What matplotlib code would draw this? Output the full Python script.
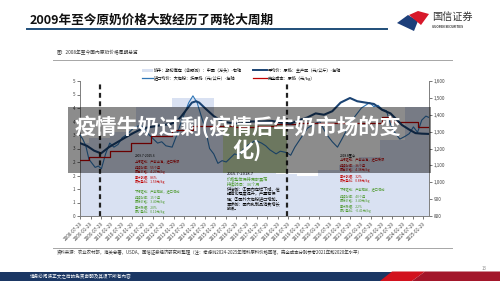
import matplotlib
matplotlib.use('Agg')
import matplotlib.pyplot as plt
import pandas as pd
from matplotlib.patches import Rectangle, Polygon
from matplotlib.lines import Line2D

plt.rcParams['font.family'] = ['Noto Sans CJK SC', 'DejaVu Sans']

# ---- data ----
# 平均价：原奶：主产区（元/公斤）
price_t = [2008.57, 2008.9, 2009.25, 2009.58, 2009.96, 2010.4, 2010.8, 2011.2, 2011.6, 2012.0,
           2012.5, 2012.9, 2013.15, 2013.4, 2013.6, 2013.8, 2013.95, 2014.15, 2014.3, 2014.6,
           2015.0, 2015.4, 2015.8, 2016.3, 2016.8, 2017.3, 2017.8, 2018.3, 2018.7, 2019.1,
           2019.5, 2019.9, 2020.3, 2020.7, 2021.1, 2021.55, 2021.9, 2022.3, 2022.7, 2023.1,
           2023.5, 2024.05, 2024.4, 2024.7, 2025.0, 2025.35]
price_v = [2.70, 2.60, 2.42, 2.32, 2.55, 2.75, 2.93, 3.10, 3.25, 3.30,
           3.37, 3.40, 3.48, 3.65, 3.85, 4.05, 4.20, 4.25, 4.20, 3.98,
           3.70, 3.50, 3.45, 3.42, 3.50, 3.50, 3.52, 3.45, 3.42, 3.55,
           3.65, 3.80, 3.75, 3.88, 4.20, 4.37, 4.25, 4.20, 4.15, 3.93,
           3.80, 3.37, 3.20, 3.07, 3.05, 3.04]

# 进口均价：大包粉：折原奶（元/公斤）
imp_t = [2008.57, 2008.7, 2008.85, 2009.0, 2009.15, 2009.3, 2009.45, 2009.6, 2009.8, 2010.0,
         2010.2, 2010.4, 2010.6, 2010.8, 2011.0, 2011.2, 2011.5, 2011.7, 2011.9, 2012.1,
         2012.3, 2012.5, 2012.7, 2013.0, 2013.2, 2013.4, 2013.6, 2013.8, 2014.0, 2014.2,
         2014.4, 2014.6, 2014.8, 2015.0, 2015.2, 2015.4, 2015.6, 2015.8, 2016.0, 2016.2,
         2016.5, 2016.8, 2017.0, 2017.3, 2017.5, 2017.7, 2018.0, 2018.2, 2018.5, 2018.7,
         2018.9, 2019.2, 2019.5, 2019.8, 2020.1, 2020.3, 2020.5, 2020.7, 2020.95, 2021.2,
         2021.4, 2021.6, 2021.8, 2022.1, 2022.3, 2022.5, 2022.7, 2022.9, 2023.1, 2023.3,
         2023.5, 2023.7, 2023.95, 2024.2, 2024.4, 2024.6, 2024.8, 2025.0, 2025.2, 2025.35]
imp_v = [3.00, 2.85, 2.60, 2.10, 1.95, 1.80, 1.85, 1.75, 2.30, 2.70,
         2.55, 2.65, 2.90, 3.00, 3.15, 3.30, 3.35, 3.20, 3.00, 2.85,
         2.70, 2.75, 2.60, 2.55, 2.95, 3.40, 3.80, 4.20, 4.45, 4.20,
         3.70, 3.20, 2.50, 2.30, 1.95, 2.05, 2.00, 2.15, 2.30, 2.25,
         2.55, 2.70, 2.80, 2.70, 2.60, 2.45, 2.30, 2.40, 2.35, 2.25,
         2.55, 2.90, 3.25, 3.40, 3.50, 3.20, 2.95, 2.75, 2.55, 2.90,
         3.20, 3.50, 3.70, 4.00, 4.10, 4.20, 4.05, 4.10, 3.95, 3.90,
         3.40, 3.10, 2.85, 2.95, 3.05, 3.30, 3.10, 3.55, 3.70, 3.65]

# 完全成本：原奶（元/kg）
cost_t = [2008.57, 2009.0, 2010.0, 2011.0, 2012.0, 2013.0, 2014.0, 2015.0, 2016.0, 2017.0,
          2018.0, 2019.0, 2020.0, 2021.0, 2022.0, 2023.1, 2023.5, 2024.8, 2025.35]
cost_v = [2.07, 2.20, 2.40, 2.70, 2.95, 3.20, 3.35, 3.35, 3.30, 3.35,
          3.40, 3.45, 3.45, 3.45, 3.45, 3.65, 3.47, 3.30, 3.30]

# 奶牛：期初库存（含预测）：中国（万头）-右轴
herd_t = [2008.57, 2009.0, 2010.0, 2011.25, 2013.0, 2015.0, 2016.0, 2017.0, 2018.0, 2019.0,
          2020.0, 2021.0, 2022.0, 2023.0, 2024.2, 2025.35]
herd_v = [1230, 1260, 1300, 1445, 1500, 1300, 1200, 1100, 1050, 1040,
          1070, 1100, 1150, 1250, 1445, 1445]

left_ticks = [0, 0.5, 1, 1.5, 2, 2.5, 3, 3.5, 4, 4.5, 5]
left_labels = ['0', '1', '1', '2', '2', '3', '3', '4', '4', '5', '5']
right_ticks = [800, 900, 1000, 1100, 1200, 1300, 1400, 1500, 1600]
date_labels = [f'{y}-{m}-29' for y in range(2008, 2026) for m in ('01', '07')][1:-1]

cycle_lines = [2009.55, 2018.5]

navy = '#1a4373'
blue = '#2e75b6'
red = '#c00000'
herd_c = '#d9e1f2'
green_t = '#4e9a2e'

W, H = 500, 281
def fx(px): return px / W
def fy(py): return 1 - py / H

fig = plt.figure(figsize=(5, 2.81), dpi=100)

# ---- header ----
fig.text(fx(30), fy(20), '2009年至今原奶价格大致经历了两轮大周期', fontsize=9.1,
         weight='bold', va='center', color='#111111')
fig.add_artist(Line2D([fx(27), fx(387)], [fy(28.5), fy(28.5)], color='#1f4e79', lw=1.4))
fig.add_artist(Polygon([(fx(397), fy(23)), (fx(408), fy(15)), (fx(418), fy(21)), (fx(414), fy(31))],
                       closed=True, color='#1d3f7a', lw=0))
fig.add_artist(Polygon([(fx(409), fy(15)), (fx(418), fy(11)), (fx(429), fy(14)), (fx(421), fy(25)), (fx(415), fy(20))],
                       closed=True, color='#d7182a', lw=0))
fig.text(fx(432), fy(17), '国信证券', fontsize=7.3, va='center', color='#333333')
fig.text(fx(432), fy(27), 'GUOSEN SECURITIES', fontsize=2.2, va='center', color='#333333', weight='bold')

fig.text(fx(57), fy(53), '图：2008年至今国内原奶价格周期总览', fontsize=3.4, va='center', color='#333333')
fig.add_artist(Line2D([fx(53), fx(452)], [fy(59.5), fy(59.5)], color='#a6a6a6', lw=0.7))

# ---- legend ----
lfs = 3.0
fig.add_artist(Rectangle((fx(142), fy(72)), 11 / W, 3.5 / H, color=herd_c, lw=0))
fig.text(fx(154), fy(70), '奶牛：期初库存（含预测）：中国（万头）-右轴', fontsize=lfs, va='center')
fig.add_artist(Line2D([fx(253), fx(267)], [fy(70), fy(70)], color=navy, lw=1.4))
fig.text(fx(268), fy(70), '平均价：原奶：主产区（元/公斤）-左轴', fontsize=lfs, va='center')
fig.add_artist(Line2D([fx(142), fx(153)], [fy(78), fy(78)], color=blue, lw=0.9))
fig.text(fx(154), fy(78), '进口均价：大包粉：折原奶（元/公斤）-左轴', fontsize=lfs, va='center')
fig.add_artist(Line2D([fx(253), fx(267)], [fy(78), fy(78)], color=red, lw=0.9))
fig.text(fx(268), fy(78), '完全成本：原奶（元/kg）', fontsize=lfs, va='center')

# ---- chart ----
ax = fig.add_axes([fx(80), fy(216), 349 / W, 135 / H])
ax_r = ax.twinx()
ax.set_zorder(ax_r.get_zorder() + 1)
ax.patch.set_visible(False)

ax_r.fill_between(herd_t, 800, herd_v, step='post', color=herd_c, lw=0, zorder=1)
ax_r.fill_between([2015.45, 2018.5], 1056, 1340, color='#c6d9ae', lw=0, zorder=2)
ax_r.set_ylim(800, 1600)
ax_r.set_yticks(right_ticks)
ax_r.set_yticklabels([f'{v:,}' for v in right_ticks])

ax.plot(imp_t, imp_v, color=blue, lw=0.8, zorder=3)
ax.step(cost_t, cost_v, where='post', color=red, lw=0.9, zorder=4)
ax.plot(price_t, price_v, color=navy, lw=1.5, zorder=5)
for xv in cycle_lines:
    ax.axvline(xv, color='#222222', lw=1.6, ls=(0, (2.2, 1.6)), zorder=6)

ax.set_ylim(0, 5)
ax.set_yticks(left_ticks)
ax.set_yticklabels(left_labels)

tick_pos = []
for s in date_labels:
    d = pd.Timestamp(s)
    tick_pos.append(d.year + (d.dayofyear - 1) / (366 if d.is_leap_year else 365))
ax.set_xlim(2008.57, 2025.35)
ax.set_xticks(tick_pos)
ax.set_xticklabels(date_labels, rotation=45, ha='right', rotation_mode='anchor')

for a in (ax, ax_r):
    a.tick_params(labelsize=3.3, length=2, width=0.5, pad=1.5, colors='#404040')
    for side in ('left', 'right', 'bottom'):
        a.spines[side].set_color('#7f7f7f')
        a.spines[side].set_linewidth(0.6)
    a.spines['top'].set_visible(False)

# ---- annotation boxes ----
afs = 2.3
box1 = [('2009.7-2015.6', 'black', 156), ('上行驱动：产能出清，进口受限', red, 162),
        ('持续时间：55个月', red, 167), ('最高价格：4.27元/kg', red, 172), ('累计涨幅：86%', red, 177),
        ('最大盈利：1.53元/kg', red, 182), ('下行驱动：产能释放，进口增加', green_t, 192),
        ('持续时间：15个月', green_t, 197), ('最低价格：3.40元/kg', green_t, 202),
        ('累计跌幅：20%', green_t, 207), ('最小盈利：0.11元/kg', green_t, 212)]
for s, c, y in box1:
    fig.text(fx(135), fy(y), s, fontsize=afs, color=c, va='center', zorder=7)

box2 = [('2015.7-2018.7', 'black', 174), ('价格整体保持底部震荡', green_t, 179),
        ('持续时间：36个月', green_t, 184), ('供给侧：①国内存栏下降，但', 'black', 189),
        ('规模化程度提升，产量有保', 'black', 194), ('障；②国外大包粉进口增加。', 'black', 199),
        ('需求侧：国内乳制品消费增长', 'black', 204), ('放缓。', 'black', 209)]
for s, c, y in box2:
    fig.text(fx(227), fy(y), s, fontsize=3.0, color=c, va='center', zorder=7)

box3 = [('2018.8至今', 'black', 155), ('上行驱动：产能出清，进口受限', red, 160),
        ('持续时间：36个月', red, 165), ('最高价格：4.38元/kg', red, 170), ('累计涨幅：32%', red, 176),
        ('最大盈利：0.88元/kg', red, 181), ('下行驱动：产能释放，进口增加', green_t, 190),
        ('持续时间：40个月', green_t, 196), ('最低价格：3.40元/kg', green_t, 201),
        ('累计跌幅：22%', green_t, 206), ('最小盈利：-0.41元/kg', green_t, 211)]
for s, c, y in box3:
    fig.text(fx(340), fy(y), s, fontsize=afs, color=c, va='center', zorder=7)

# ---- source + footer ----
fig.add_artist(Line2D([fx(53), fx(452)], [fy(248), fy(248)], color='#a6a6a6', lw=0.7))
fig.text(fx(57), fy(252.5), '资料来源：农业农村部，海关总署，USDA，国信证券经济研究所整理（注：考虑到2024-2025年饲料原料价格回落，'
         '完全成本分别参考2021年和2020年水平）', fontsize=3.2, va='center', color='#333333')
fig.text(fx(482), fy(268), '13', fontsize=3.2, va='center', color='#888888')
fig.add_artist(Rectangle((0, 0), 392 / W, 9.5 / H, color='#1b3764', lw=0, zorder=8))
fig.add_artist(Polygon([(fx(380), 0), (fx(392), fy(271.5)), (fx(425), fy(271.5)), (fx(412), 0)],
                       closed=True, color='#d2121e', lw=0, zorder=8))
fig.add_artist(Polygon([(fx(412), 0), (fx(425), fy(271.5)), (1, fy(271.5)), (1, 0)],
                       closed=True, color='#a3162a', lw=0, zorder=8))
fig.text(fx(30), fy(276.5), '请务必阅读正文之后的免责声明及其项下所有内容', fontsize=3.3, va='center',
         color='white', zorder=9)

# ---- overlay band with headline ----
fig.add_artist(Rectangle((fx(68), fy(173)), 363 / W, 66 / H, color='black', alpha=0.45, lw=0, zorder=10))
fig.text(fx(238), fy(127), '疫情牛奶过剩(疫情后牛奶市场的变', fontsize=15.3, weight='bold',
         color='white', ha='center', va='center', zorder=11)
fig.text(fx(247), fy(150), '化)', fontsize=15.3, weight='bold',
         color='white', ha='center', va='center', zorder=11)

fig.savefig('out.png', dpi=100)
